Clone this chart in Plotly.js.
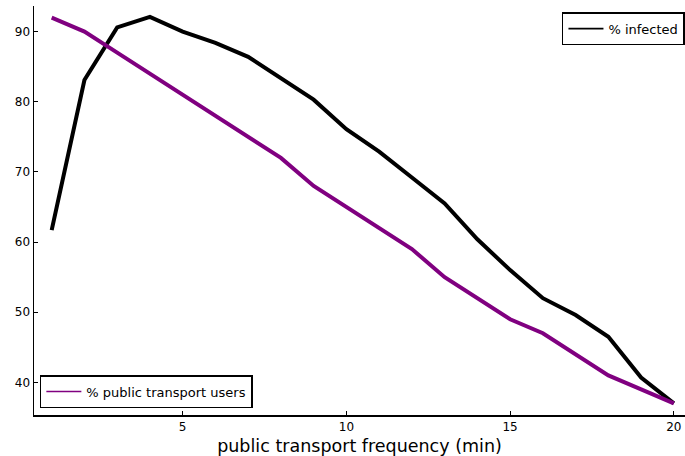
<!DOCTYPE html>
<html>
<head>
<meta charset="utf-8">
<script src="https://cdn.plot.ly/plotly-3.0.1.min.js"></script>
<style>html,body{margin:0;padding:0;background:#fff;}#chart{width:685px;height:456px;}</style>
</head>
<body>
<div id="chart"></div>
<script>
const frequency = [1,2,3,4,5,6,7,8,9,10,11,12,13,14,15,16,17,18,19,20];
const infected = [61.7,83.1,90.6,92.1,90.0,88.4,86.4,83.3,80.3,76.1,72.9,69.2,65.5,60.4,56.0,52.0,49.6,46.5,40.7,37.0];
const transportUsers = [92,90,87,84,81,78,75,72,68,65,62,59,55,52,49,47,44,41,39,37];
const xTicks = [5,10,15,20];
const yTicks = [40,50,60,70,80,90];

const traces = [
  {x: frequency, y: infected, type: 'scatter', mode: 'lines', line: {color: '#000000', width: 4}, showlegend: false, hoverinfo: 'skip'},
  {x: frequency, y: transportUsers, type: 'scatter', mode: 'lines', line: {color: '#800080', width: 4}, showlegend: false, hoverinfo: 'skip'},
  {x: [null], y: [null], type: 'scatter', mode: 'lines', name: '% infected', line: {color: '#000000', width: 1.6}, legend: 'legend'},
  {x: [null], y: [null], type: 'scatter', mode: 'lines', name: '% public transport users', line: {color: '#800080', width: 1.6}, legend: 'legend2'}
];

const layout = {
  width: 685, height: 456,
  margin: {l: 34, r: 0, t: 6, b: 41},
  paper_bgcolor: '#ffffff', plot_bgcolor: '#ffffff',
  font: {family: 'DejaVu Sans, sans-serif', size: 12, color: '#000'},
  xaxis: {
    range: [0.46, 20.34], tickvals: xTicks, ticktext: xTicks.map(String),
    showgrid: false, zeroline: false, showline: true, linecolor: '#000', linewidth: 1.5,
    ticks: 'inside', ticklen: 4, tickcolor: '#000', tickwidth: 1,
    tickfont: {size: 12, color: '#000'},
    title: {text: 'public transport frequency (min)', font: {size: 17.5, color: '#000'}, standoff: 9}
  },
  yaxis: {
    range: [35.35, 93.65], tickvals: yTicks, ticktext: yTicks.map(String),
    showgrid: false, zeroline: false, showline: true, linecolor: '#000', linewidth: 1.5,
    ticks: 'inside', ticklen: 4, tickcolor: '#000', tickwidth: 1,
    tickfont: {size: 12, color: '#000'}
  },
  legend: {
    x: 0.811, y: 0.985, xanchor: 'left', yanchor: 'top',
    bgcolor: '#ffffff', bordercolor: '#000', borderwidth: 1.5,
    font: {size: 13, color: '#000'}, itemwidth: 35, tracegroupgap: 0
  },
  legend2: {
    x: 0.009, y: 0.017, xanchor: 'left', yanchor: 'bottom',
    bgcolor: '#ffffff', bordercolor: '#000', borderwidth: 1.5,
    font: {size: 13, color: '#000'}, itemwidth: 35
  }
};

Plotly.newPlot('chart', traces, layout, {staticPlot: true, displayModeBar: false});
</script>
</body>
</html>
